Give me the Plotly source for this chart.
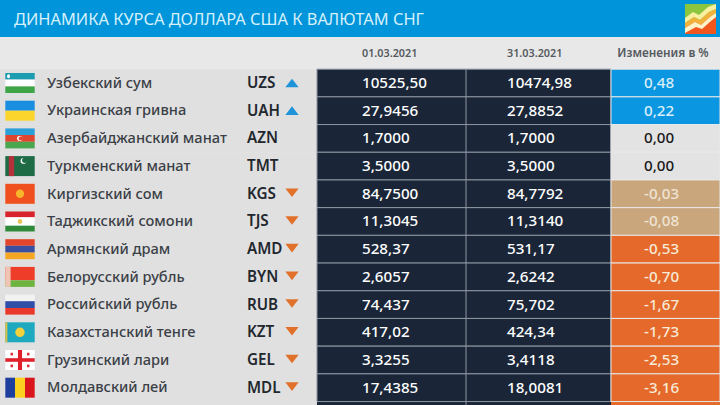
import plotly.graph_objects as go

names = ["Узбекский сум", "Украинская гривна", "Азербайджанский манат", "Туркменский манат",
         "Киргизский сом", "Таджикский сомони", "Армянский драм", "Белорусский рубль",
         "Российский рубль", "Казахстанский тенге", "Грузинский лари", "Молдавский лей"]
codes = ["UZS", "UAH", "AZN", "TMT", "KGS", "TJS", "AMD", "BYN", "RUB", "KZT", "GEL", "MDL"]
rate_start = ["10525,50", "27,9456", "1,7000", "3,5000", "84,7500", "11,3045",
              "528,37", "2,6057", "74,437", "417,02", "3,3255", "17,4385"]
rate_end = ["10474,98", "27,8852", "1,7000", "3,5000", "84,7792", "11,3140",
            "531,17", "2,6242", "75,702", "424,34", "3,4118", "18,0081"]
change = [0.48, 0.22, 0.00, 0.00, -0.03, -0.08, -0.53, -0.70, -1.67, -1.73, -2.53, -3.16]
col_heads = ["01.03.2021", "31.03.2021", "Изменения в %"]
title = "ДИНАМИКА КУРСА ДОЛЛАРА США К ВАЛЮТАМ СНГ"

# flag stripes, top to bottom (or left to right for Moldova)
flag_stripes = [
    [("#1c9cb0", 0.33), ("#ffffff", 0.34), ("#3fa648", 0.33)],
    [("#1a8fe0", 0.5), ("#fbd52b", 0.5)],
    [("#2a9fd8", 0.33), ("#e0462f", 0.34), ("#4aa64f", 0.33)],
    [("#1f6b45", 1.0)],
    [("#f0501e", 1.0)],
    [("#d8242c", 0.29), ("#ffffff", 0.42), ("#2f8a3a", 0.29)],
    [("#e2452b", 0.33), ("#3b4fa0", 0.34), ("#f5a623", 0.33)],
    [("#ee3e2a", 0.67), ("#6db33f", 0.33)],
    [("#f2f2f2", 0.33), ("#2f4ea8", 0.34), ("#e8392b", 0.33)],
    [("#1fa9c0", 1.0)],
    [("#ffffff", 1.0)],
    [("#1f3f9e", 0.33), ("#fbd020", 0.34), ("#d9161c", 0.33)],
]

DARK = "#1a2638"
BLUE = "#0095da"
RULE = "#8d95a0"
ROW_STEP = 27.7
FLAG_X0, FLAG_X1 = 5.3, 34.7
FLAG_H = 20 / ROW_STEP
TOP_PX = 83.0
TEXT_NUDGE = 0.04  # Noto sits a little high in the row


def px_y(p):
    return (p - TOP_PX) / ROW_STEP


def cell_color(v):
    if v > 0:
        return "#0a96e0"
    if v == 0:
        return "#e3e3e3"
    if v > -0.1:
        return "#c9a67c"
    return "#e4692a"


def text_color(v):
    if v == 0:
        return "#1a1a1a"
    if v < 0 and v > -0.1:
        return "#efe3d3"
    return "#f7ead8" if v < 0 else "#d8eefa"


def flag_rect(row, fx0, fx1, fy0, fy1, color, kind="rect"):
    w = FLAG_X1 - FLAG_X0
    top = row - FLAG_H / 2
    return dict(type=kind, layer="above", line_width=0, fillcolor=color, xref="x", yref="y",
                x0=FLAG_X0 + fx0 * w, x1=FLAG_X0 + fx1 * w,
                y0=top + fy0 * FLAG_H, y1=top + fy1 * FLAG_H)


shapes = [
    dict(type="rect", xref="x", yref="paper", x0=0, x1=720, y0=1 - 37 / 405, y1=1,
         fillcolor=BLUE, line_width=0, layer="below"),
    # the table runs off the bottom of the picture
    dict(type="rect", xref="x", yref="y", x0=317, x1=611, y0=11.4, y1=px_y(405),
         fillcolor=DARK, line_width=0, layer="below"),
    dict(type="rect", xref="x", yref="y", x0=611, x1=720, y0=11.4, y1=px_y(405),
         fillcolor=cell_color(change[-1]), line_width=0, layer="below"),
    dict(type="rect", xref="x", yref="y", x0=0, x1=317, y0=11.4, y1=px_y(405),
         fillcolor="#e0e0e0", line_width=0, layer="below"),
    # divider between the two date columns
    dict(type="line", xref="x", yref="y", x0=466, x1=466, y0=-0.5, y1=px_y(405),
         line=dict(color=RULE, width=1), layer="above"),
]

for i, stripes in enumerate(flag_stripes):
    pos = 0
    for color, frac in stripes:
        if i == 11:
            shapes.append(flag_rect(i, pos, pos + frac, 0, 1, color))
        else:
            shapes.append(flag_rect(i, 0, 1, pos, pos + frac, color))
        pos += frac

# flag details
shapes += [
    flag_rect(0, 0.06, 0.16, 0.06, 0.26, "#ffffff", "circle"),
    flag_rect(2, 0.40, 0.58, 0.38, 0.62, "#ffffff", "circle"),
    flag_rect(2, 0.45, 0.60, 0.41, 0.59, "#e0462f", "circle"),
    flag_rect(3, 0.12, 0.30, 0, 1, "#b5303a"),
    flag_rect(3, 0.52, 0.72, 0.10, 0.38, "#ffffff", "circle"),
    flag_rect(3, 0.57, 0.75, 0.08, 0.34, "#1f6b45", "circle"),
    flag_rect(4, 0.36, 0.64, 0.29, 0.71, "#f7b52c", "circle"),
    flag_rect(5, 0.42, 0.58, 0.38, 0.62, "#e8c45a", "circle"),
    flag_rect(7, 0, 0.18, 0, 1, "#f0c4b4"),
    flag_rect(9, 0, 0.07, 0, 1, "#d9c24a"),
    flag_rect(9, 0.34, 0.66, 0.26, 0.74, "#f2d13c", "circle"),
    flag_rect(10, 0.43, 0.57, 0, 1, "#e0202c"),
    flag_rect(10, 0, 1, 0.41, 0.59, "#e0202c"),
    flag_rect(10, 0.18, 0.26, 0.14, 0.27, "#e0202c"),
    flag_rect(10, 0.74, 0.82, 0.14, 0.27, "#e0202c"),
    flag_rect(10, 0.18, 0.26, 0.73, 0.86, "#e0202c"),
    flag_rect(10, 0.74, 0.82, 0.73, 0.86, "#e0202c"),
]

# logo in the header, points in picture pixels
logo = [
    ([(685, 4), (716, 4), (716, 22), (685, 34)], "#8cc63f"),
    ([(685, 26), (716, 14), (716, 34), (685, 34)], "#f0561e"),
    ([(685, 18), (693, 12), (699, 15), (708, 7), (716, 4), (716, 9), (709, 12), (700, 20), (694, 17), (685, 23)], "#f6f0a0"),
    ([(685, 23), (694, 17), (700, 20), (709, 12), (716, 9), (716, 13), (710, 17), (701, 25), (695, 22), (685, 28)], "#f0b23a"),
    ([(685, 28), (695, 22), (701, 25), (710, 17), (716, 13), (716, 17), (711, 21), (702, 29), (696, 27), (685, 33)], "#fdf3c8"),
]
for points, color in logo:
    path = "M" + " L".join(f"{x} {px_y(y):.3f}" for x, y in points) + " Z"
    shapes.append(dict(type="path", path=path, fillcolor=color, line_width=0, layer="above",
                       xref="x", yref="y"))

rows = list(range(len(names)))
text_rows = [r + TEXT_NUDGE for r in rows]
fig = go.Figure()

# table cells
fig.add_trace(go.Bar(y=rows, x=[317] * 12, base=0, orientation="h", width=1,
                     marker=dict(color="#e0e0e0", line_width=0)))
fig.add_trace(go.Bar(y=rows, x=[294] * 12, base=317, orientation="h", width=1,
                     marker=dict(color=DARK, line=dict(color=RULE, width=1))))
fig.add_trace(go.Bar(y=rows, x=[109] * 12, base=611, orientation="h", width=1,
                     marker=dict(color=[cell_color(v) for v in change],
                                 line=dict(color="#e8e8e8", width=1))))

FONT = "Noto Sans"


def text_col(x, y, text, size, color, pos="middle right", weight=500):
    fig.add_trace(go.Scatter(x=x, y=y, text=text, mode="text", textposition=pos,
                             textfont=dict(family=FONT, size=size, color=color, weight=weight)))


text_col([47] * 12, text_rows, names, 14.6, "#3b4047")
text_col([247] * 12, text_rows, codes, 15.2, "#22272e", weight=600)
text_col([362] * 12, text_rows, rate_start, 15.2, "#ffffff")
text_col([507] * 12, text_rows, rate_end, 15.2, "#ffffff")
text_col([644] * 12, text_rows, [f"{v:.2f}".replace(".", ",") for v in change], 15.2,
         [text_color(v) for v in change])

head_y = -1.05
text_col([362, 507], [head_y, head_y], col_heads[:2], 10.8, "#555a60", weight=600)
text_col([663], [head_y], col_heads[2:], 11.8, "#555a60", pos="middle center", weight=600)

# direction markers follow the sign of the change
up = [i for i in rows if change[i] > 0]
down = [i for i in rows if change[i] < 0]
fig.add_trace(go.Scatter(x=[292] * len(up), y=[r + 0.05 for r in up], mode="markers",
                         marker=dict(symbol="triangle-up", size=11.5, color="#1f94d8", line_width=0)))
fig.add_trace(go.Scatter(x=[292] * len(down), y=[r - 0.09 for r in down], mode="markers",
                         marker=dict(symbol="triangle-down", size=11.5, color="#e0702a", line_width=0)))

fig.update_layout(
    width=720, height=405, margin=dict(l=0, r=0, t=0, b=0),
    paper_bgcolor="#e8e8e8", plot_bgcolor="rgba(0,0,0,0)",
    showlegend=False, barmode="overlay", shapes=shapes,
    title=dict(text=title, x=14 / 720, xanchor="left", y=1 - 19 / 405, yanchor="middle",
               font=dict(family=FONT, size=16.4, color="#d6f0fb")),
    xaxis=dict(range=[0, 720], visible=False, fixedrange=True),
    yaxis=dict(range=[(405 - TOP_PX) / ROW_STEP, -TOP_PX / ROW_STEP], visible=False, fixedrange=True),
)

fig.write_html("out.html", config=dict(displayModeBar=False),
               post_script="document.body.style.margin='0';document.body.style.overflow='hidden';")
